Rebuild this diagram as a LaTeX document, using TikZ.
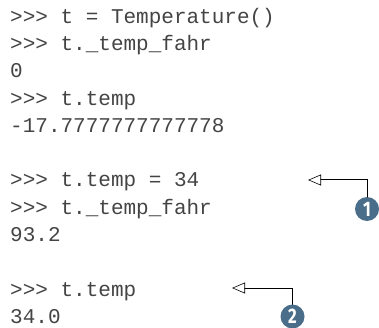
\documentclass[tikz,border=0pt]{standalone}
\usepackage{fontspec}
\setmonofont{Liberation Mono}
\newfontfamily\calloutfont[FakeStretch=0.8]{Fira Sans}
\usetikzlibrary{arrows.meta}
\definecolor{codegray}{HTML}{444444}
\definecolor{calloutblue}{HTML}{4A6D8A}
\begin{document}
\begin{tikzpicture}[x=1pt, y=-1pt, line cap=round, >={Triangle[open, length=13pt, width=11pt, line width=0.6pt]}]
			\tikzset{code line/.style={anchor=base west, inner sep=0pt, text=codegray, font=\ttfamily\fontsize{21}{21}\selectfont}}
			\tikzset{callout/.style={circle, fill=calloutblue, text=white, minimum size=24pt, inner sep=0pt, font=\calloutfont\bfseries\fontsize{21}{21}\selectfont}}
			\useasboundingbox (0,0) rectangle (379,328);
			\foreach \n/\txt in {1/{>>> t = Temperature()}, 2/{>>> t.\_temp\_fahr}, 3/{0}, 4/{>>> t.temp}, 5/{-17.7777777777778}, 7/{>>> t.temp = 34}, 8/{>>> t.\_temp\_fahr}, 9/{93.2}, 11/{>>> t.temp}, 12/{34.0}}
				\node[code line] (line\n) at (10, {23.5+27.25*(\n-1)}) {\txt};
			\coordinate (tip1) at (308,180);
			\coordinate (tip2) at (232,288);
			\node[callout] (c1) at (367,209) {1};
			\node[callout] (c2) at (292.5,316.5) {2};
			\draw[->, line width=1pt] (c1) |- (tip1);
			\draw[->, line width=1pt] (c2) |- (tip2);
		\end{tikzpicture}
\end{document}
